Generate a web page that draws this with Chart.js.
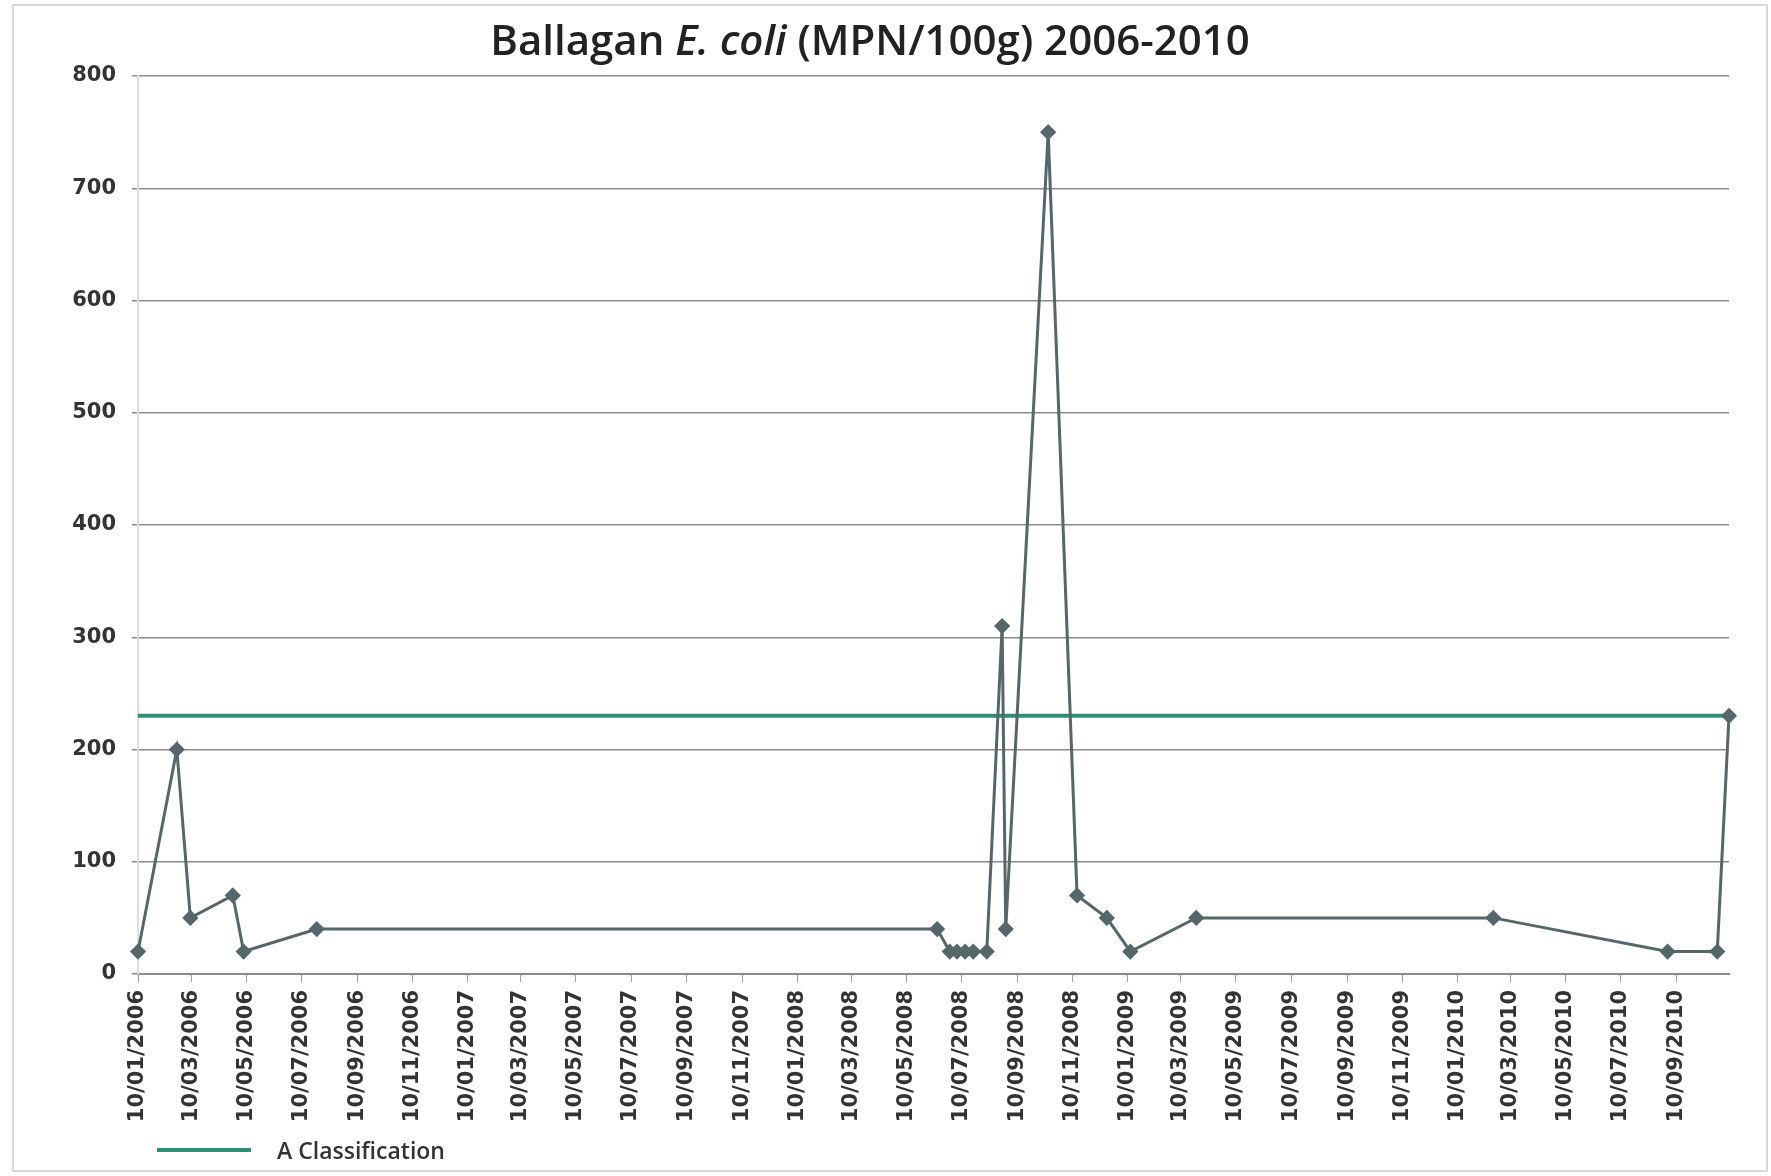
<!DOCTYPE html>
<html>
<head>
<meta charset="utf-8">
<title>Ballagan E. coli 2006-2010</title>
<script src="https://cdn.jsdelivr.net/npm/chart.js@4.4.1/dist/chart.umd.min.js"></script>
<style>
  html, body { margin: 0; padding: 0; background: #fff; }
  #wrap { position: relative; width: 1771px; height: 1176px; overflow: hidden; }
  #frame { position: absolute; left: 12px; top: 4px; right: 3px; bottom: 4px; border: 2px solid #d8d8d8; }
  #title {
    position: absolute; left: 0; top: 10px; width: 1740px; text-align: center;
    font-family: 'Open Sans', sans-serif; font-weight: 600; font-size: 42px; color: #222;
  }
  #legend {
    position: absolute; left: 157px; top: 1134px;
    font-family: 'Open Sans', sans-serif; font-weight: 600; font-size: 23px; color: #333;
    display: flex; align-items: center;
  }
  #legend .swatch { display: inline-block; width: 94px; height: 4px; background: #2e8f74; margin-right: 26px; }
  canvas { position: absolute; left: 0; top: 0; }
</style>
</head>
<body>
<div id="wrap">
  <div id="frame"></div>
  <canvas id="grafico" width="1771" height="1176"></canvas>
  <div id="title">Ballagan <i>E. coli</i> (MPN/100g) 2006-2010</div>
  <div id="legend"><span class="swatch"></span>A Classification</div>
</div>
<script>
// sample dates (dd/mm/yyyy) and E. coli results
const sampleDates = [
  '10/01/2006', '22/02/2006', '09/03/2006', '25/04/2006', '07/05/2006', '27/07/2006',
  '13/06/2008', '27/06/2008', '05/07/2008', '14/07/2008', '23/07/2008', '07/08/2008',
  '24/08/2008', '28/08/2008', '14/10/2008', '15/11/2008', '18/12/2008', '13/01/2009',
  '27/03/2009', '19/02/2010', '31/08/2010', '25/10/2010', '07/11/2010'
]
const ecoliValues = [
  20, 200, 50, 70, 20, 40,
  40, 20, 20, 20, 20, 20,
  310, 40, 750, 70, 50, 20,
  50, 50, 20, 20, 230
]

const tickDates = [
  '10/01/2006', '10/03/2006', '10/05/2006', '10/07/2006', '10/09/2006', '10/11/2006',
  '10/01/2007', '10/03/2007', '10/05/2007', '10/07/2007', '10/09/2007', '10/11/2007',
  '10/01/2008', '10/03/2008', '10/05/2008', '10/07/2008', '10/09/2008', '10/11/2008',
  '10/01/2009', '10/03/2009', '10/05/2009', '10/07/2009', '10/09/2009', '10/11/2009',
  '10/01/2010', '10/03/2010', '10/05/2010', '10/07/2010', '10/09/2010'
]
const yTicks = [0, 100, 200, 300, 400, 500, 600, 700, 800]

const aClassLimit = 230

function dayNumber(s) {
  const [d, m, y] = s.split('/').map(Number)
  return Date.UTC(y, m - 1, d) / 86400000
}

const firstDay = dayNumber(sampleDates[0])
const lastDay = dayNumber(sampleDates[sampleDates.length - 1])

const ecoliPoints = sampleDates.map((d, i) => ({ x: dayNumber(d), y: ecoliValues[i] }))
const limitPoints = [
  { x: firstDay, y: aClassLimit },
  { x: lastDay, y: aClassLimit }
]

const tickFont = { family: "'DejaVu Sans', sans-serif", weight: 'bold', size: 21 }

const ctxGrafico = document.getElementById('grafico')

new Chart(ctxGrafico, {
  type: 'line',
  data: {
    datasets: [{
      label: 'E. coli',
      data: ecoliPoints,
      borderColor: '#56676b',
      backgroundColor: '#56676b',
      borderWidth: 3,
      pointStyle: 'rectRot',
      pointRadius: 6,
      tension: 0,
      clip: false
    }, {
      label: 'A Classification',
      data: limitPoints,
      borderColor: '#2e8f74',
      backgroundColor: '#2e8f74',
      borderWidth: 4,
      pointRadius: 0,
      clip: false
    }]
  },
  options: {
    responsive: false,
    animation: false,
    devicePixelRatio: 1,
    layout: { padding: { top: 76, right: 42, bottom: 52, left: 0 } },
    plugins: {
      legend: { display: false },
      title: { display: false },
      tooltip: { enabled: false }
    },
    scales: {
      x: {
        type: 'linear',
        min: firstDay,
        max: lastDay,
        afterBuildTicks: scale => {
          scale.ticks = tickDates.map(d => ({ value: dayNumber(d) }))
        },
        afterFit: scale => { scale.height = 150 },
        ticks: {
          autoSkip: false,
          minRotation: 90,
          maxRotation: 90,
          padding: 8,
          color: '#333',
          font: tickFont,
          callback: (value, index) => tickDates[index]
        },
        grid: { drawOnChartArea: false, tickLength: 8, color: '#9a9a9a' },
        border: { color: '#8a8a8a', width: 2 }
      },
      y: {
        min: 0,
        max: 800,
        afterBuildTicks: scale => {
          scale.ticks = yTicks.map(v => ({ value: v }))
        },
        afterFit: scale => { scale.width = 138 },
        ticks: { color: '#333', font: tickFont, padding: 16 },
        grid: { color: '#8c8c8c', lineWidth: 1.5, tickLength: 6 },
        border: { color: '#dddddd', width: 2 }
      }
    }
  }
})
</script>
</body>
</html>
